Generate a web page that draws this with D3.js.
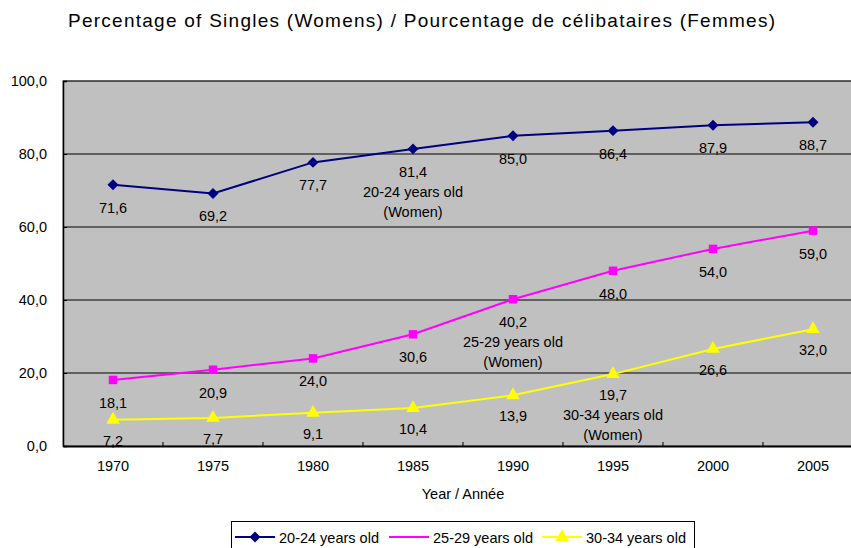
<!DOCTYPE html>
<html><head><meta charset="utf-8">
<script src="https://cdn.jsdelivr.net/npm/d3@7"></script>
<style>body{margin:0;background:#fff;overflow:hidden}text{font-family:"Liberation Sans",Arial,sans-serif}</style>
</head><body><svg id="c" width="851" height="548"></svg>
<script>
const years = [1970, 1975, 1980, 1985, 1990, 1995, 2000, 2005];
const s2024 = [71.6, 69.2, 77.7, 81.4, 85.0, 86.4, 87.9, 88.7];
const s2529 = [18.1, 20.9, 24.0, 30.6, 40.2, 48.0, 54.0, 59.0];
const s3034 = [7.2, 7.7, 9.1, 10.4, 13.9, 19.7, 26.6, 32.0];
const yTicks = [0, 20, 40, 60, 80, 100];
const seriesNames = ["20-24 years old", "25-29 years old", "30-34 years old"];
const seriesNotes = [["20-24 years old", "(Women)"], ["25-29 years old", "(Women)"], ["30-34 years old", "(Women)"]];
const noteAt = [1985, 1990, 1995];

const FS = 14.5;
const FF = "Liberation Sans, Arial, sans-serif";
const svg = d3.select("#c");
const L = 63, R = 863, T = 81, B = 446;
const x = d3.scaleBand().domain(years).range([L, R]);
const y = d3.scaleLinear().domain([0, 100]).range([B, T]);
const fmt = v => v.toFixed(1).replace(".", ",");

svg.append("text").attr("x", 68).attr("y", 27).attr("font-size", 19)
  .attr("textLength", 707).attr("lengthAdjust", "spacing")
  .text("Percentage of Singles (Womens) / Pourcentage de célibataires (Femmes)");

svg.append("rect").attr("x", L).attr("y", T).attr("width", R - L).attr("height", B - T).attr("fill", "#c0c0c0").attr("stroke", "#808080");
svg.append("g").selectAll("line").data(yTicks.filter(d => d > 0)).join("line")
  .attr("x1", L).attr("x2", R).attr("y1", d => y(d)).attr("y2", d => y(d)).attr("stroke", "#000").attr("stroke-width", 1);

const ya = svg.append("g").attr("transform", `translate(${L},0)`).call(d3.axisLeft(y).tickValues(yTicks).tickFormat(fmt).tickSize(-4).tickPadding(16));
ya.select(".domain").attr("stroke", "#000").attr("stroke-width", 1.5);
ya.selectAll("text").attr("font-size", FS).attr("font-family", FF).attr("fill", "#000");

const xa = svg.append("g").attr("transform", `translate(0,${B})`).call(d3.axisBottom(x).tickSize(0).tickPadding(15));
xa.select(".domain").attr("stroke", "#000").attr("stroke-width", 2);
xa.selectAll("text").attr("font-size", FS).attr("font-family", FF).attr("fill", "#000");
svg.append("g").selectAll("line").data(years.slice(1)).join("line")
  .attr("x1", d => x(d)).attr("x2", d => x(d)).attr("y1", B).attr("y2", B - 4).attr("stroke", "#000");

svg.append("text").attr("x", (L + R) / 2).attr("y", 499).attr("text-anchor", "middle").attr("font-size", FS).text("Year / Année");

const cx = d => x(d) + x.bandwidth() / 2;
const series = [
  {vals: s2024, color: "#000080", sym: d3.symbolSquare, rot: 45, size: 60, dy: 28},
  {vals: s2529, color: "#ff00ff", sym: d3.symbolSquare, rot: 0, size: 72, dy: 28},
  {vals: s3034, color: "#ffff00", sym: d3.symbolTriangle, rot: 0, size: 80, dy: 26}
];
const line = d3.line().x(d => cx(d[0])).y(d => y(d[1]));
series.forEach((s, i) => {
  const pts = years.map((yr, j) => [yr, s.vals[j]]);
  svg.append("path").attr("d", line(pts)).attr("fill", "none").attr("stroke", s.color).attr("stroke-width", 2);
  svg.append("g").selectAll("path").data(pts).join("path")
    .attr("transform", d => `translate(${cx(d[0])},${y(d[1])}) rotate(${s.rot})`)
    .attr("d", d3.symbol().type(s.sym).size(s.size)).attr("fill", s.color);
  svg.append("g").selectAll("text").data(pts).join("text")
    .attr("x", d => cx(d[0])).attr("y", d => y(d[1]) + s.dy).attr("text-anchor", "middle").attr("font-size", FS)
    .text(d => fmt(d[1]));
  const nj = years.indexOf(noteAt[i]);
  seriesNotes[i].forEach((t, k) => {
    svg.append("text").attr("x", cx(noteAt[i])).attr("y", y(s.vals[nj]) + s.dy + 20 * (k + 1))
      .attr("text-anchor", "middle").attr("font-size", FS).text(t);
  });
});

// legend
const lg = svg.append("g");
lg.append("rect").attr("x", 231.5).attr("y", 521.5).attr("width", 463).attr("height", 40).attr("fill", "#fff").attr("stroke", "#000");
const lx = [235, 389, 542];
series.forEach((s, i) => {
  lg.append("line").attr("x1", lx[i]).attr("x2", lx[i] + 40).attr("y1", 537).attr("y2", 537).attr("stroke", s.color).attr("stroke-width", 2);
  if (i !== 1) lg.append("path").attr("transform", `translate(${lx[i] + 20},537) rotate(${s.rot})`).attr("d", d3.symbol().type(s.sym).size(s.size)).attr("fill", s.color);
  lg.append("text").attr("x", lx[i] + 44).attr("y", 542.5).attr("font-size", FS).text(seriesNames[i]);
});
</script></body></html>
